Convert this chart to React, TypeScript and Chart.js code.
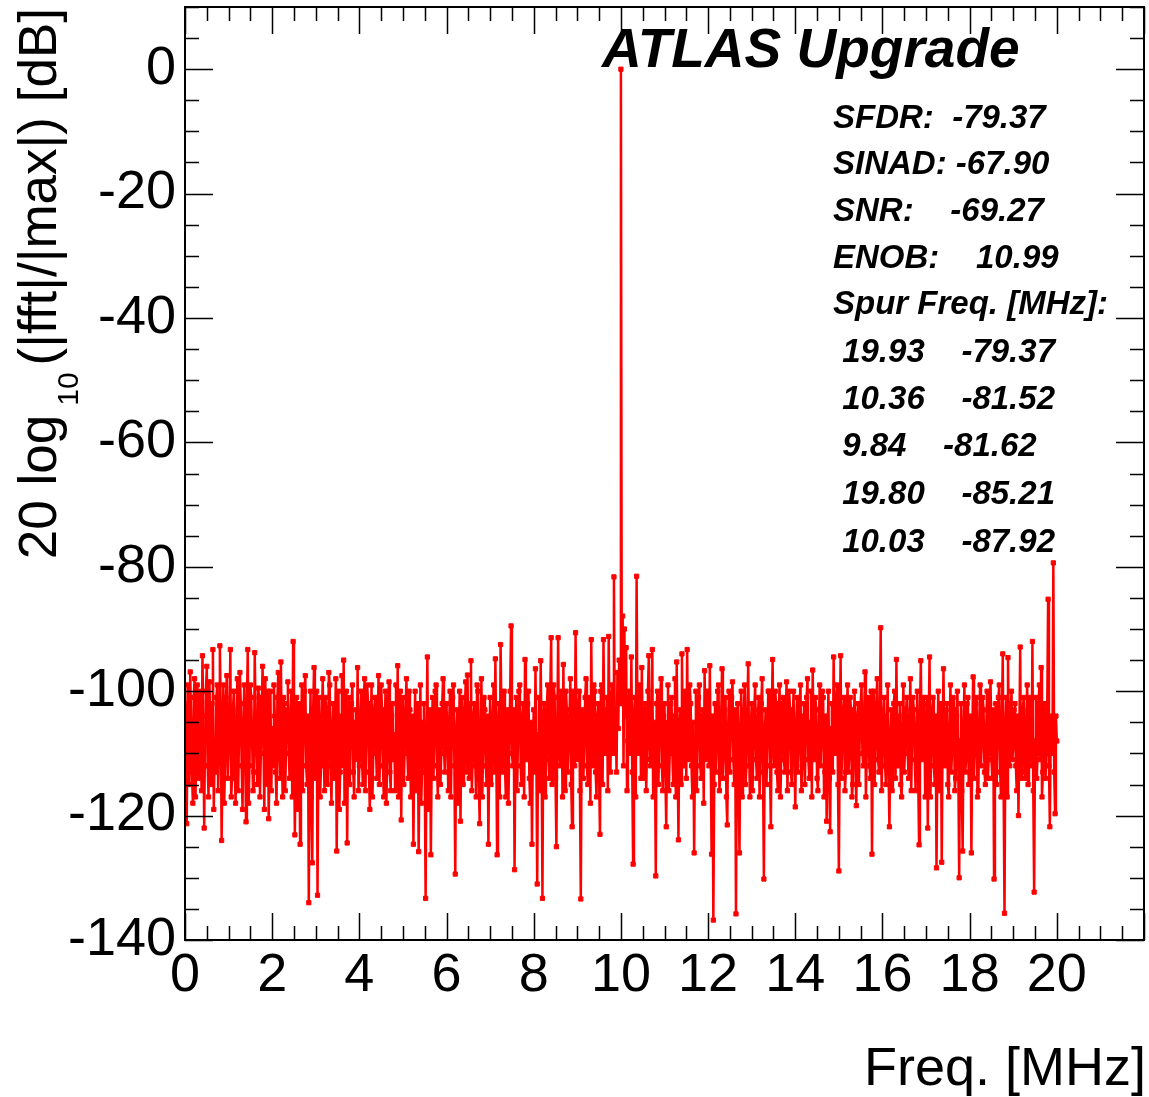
import React, { useEffect, useRef } from 'react';
import { Chart, registerables } from 'chart.js';

Chart.register(...registerables);

// ---------------- DATA ----------------
// FFT magnitude (dB). Points every FREQ_STEP_MHZ; one row per MHz.
// DB_kk: values at k + 0.04*j MHz; DBH_kk: values at k + 0.02 + 0.04*j MHz.
const FREQ_STEP_MHZ = 0.02;

const DB_00 = [-102, -121.3, -104, -96.9, -113, -101, -117, -99, -109, -103, -94.3, -122, -100, -112, -98.5, -115, -93.3, -110, -101, -116, -92.7, -124, -99, -111, -97.5];
const DB_01 = [-109, -93.3, -114, -100, -118, -98, -107, -102, -119, -99, -121, -93.3, -112, -101, -116, -93.8, -110, -99.5, -117, -103, -108, -98, -115, -120.5, -100];
const DB_02 = [-106, -99, -113, -101, -110, -95.3, -117, -102, -108, -98.5, -114, -100, -92.0, -123.1, -101, -111, -124.6, -99, -107, -97.5, -115, -134, -100, -127.6, -96.2];
const DB_03 = [-109, -132.8, -101, -112, -98, -116, -103, -110, -99, -118, -102, -107, -125.7, -100, -113, -97.5, -95, -111, -124.4, -101, -108, -99, -117, -103, -96.2];
const DB_04 = [-112, -100, -115, -98, -106, -102, -119, -99, -110, -101, -114, -97.5, -108, -103, -117, -100, -111, -98.5, -116, -102, -107, -99, -95.9, -113, -120.7];
const DB_05 = [-101, -109, -98, -114, -103, -111, -124.6, -100, -107, -125.8, -99, -112, -102, -133.3, -94.5, -115, -126.3, -101, -108, -99, -117, -103, -110, -98, -113];
const DB_06 = [-102, -116, -100, -108, -99, -129.4, -103, -112, -120.9, -101, -110, -98.5, -97.4, -114, -95.1, -111, -102, -117, -100, -121.3, -98, -109, -103, -115, -124.6];
const DB_07 = [-101, -110, -99, -94.8, -126.3, -102, -92.5, -113, -100, -117, -103, -108, -89.5, -112, -128.7, -101, -107, -99, -115, -102, -94.9, -111, -100, -118, -124.6];
const DB_08 = [-103, -96.4, -131, -101, -95.1, -133.3, -102, -110, -99, -114, -91.4, -108, -101, -125, -91.4, -112, -100, -95.7, -116, -103, -109, -98, -121.8, -102, -90.6];
const DB_09 = [-111, -100, -133.4, -103, -108, -98, -115, -101, -91.7, -112, -100, -117, -102, -123, -99, -91.7, -110, -101, -91.2, -113, -99, -81.62, -104, -97, -95];
const DB_10 = [0, -87.92, -90, -93, -108, -100, -94.5, -127.8, -101, -81.52, -110, -99, -96.2, -114, -102, -109, -94.3, -112, -93.3, -105, -129.7, -100, -108, -98, -116];
const DB_11 = [-102, -121.8, -99, -110, -101, -115, -98, -95.3, -123.9, -103, -94, -112, -100, -93.3, -109, -102, -117, -126, -100, -108, -99, -114, -103, -96.7, -111];
const DB_12 = [-101, -95.9, -126.2, -136.8, -102, -109, -99, -113, -96.4, -110, -101, -121.5, -100, -107, -98.5, -115, -135.8, -102, -126, -100, -110, -99, -112, -95.6, -117];
const DB_13 = [-102, -109, -99, -114, -101, -111, -98, -130.2, -103, -108, -100, -121.8, -94.9, -112, -102, -116, -99, -110, -101, -113, -98.5, -107, -103, -115, -100];
const DB_14 = [-118.6, -101, -109, -99, -112, -102, -108, -98, -114, -100, -96.6, -111, -103, -116, -99, -107, -101, -113, -120.9, -100, -122.6, -102, -94.5, -110, -99];
const DB_15 = [-128.9, -94.3, -108, -101, -113, -99, -110, -103, -115, -100, -118.4, -102, -107, -99, -112, -96.9, -110, -101, -114, -126.2, -100, -109, -98, -113, -89.8];
const DB_16 = [-110, -101, -115, -99, -121.8, -103, -108, -100, -94.9, -112, -102, -117, -99, -109, -101, -114, -98, -107, -103, -116, -100, -124.7, -95.1, -111, -102];
const DB_17 = [-108, -122, -94.5, -110, -101, -115, -128.4, -100, -108, -127.5, -96.4, -112, -102, -117, -99, -109, -103, -114, -100, -130, -102, -125.7, -99, -111, -101];
const DB_18 = [-113, -126, -97.7, -109, -101, -116, -99, -108, -103, -115, -100, -110, -98.5, -114, -130.2, -102, -108, -99, -117, -94, -135.7, -101, -94.6, -112, -100];
const DB_19 = [-109, -102, -116, -120, -92.9, -110, -101, -114, -99, -108, -103, -92, -132.3, -101, -110, -99, -96.2, -113, -102, -110, -85.21, -121.8, -104, -79.37, -119.7];
const DB_20 = [-108];

const DBH_00 = [-108, -99, -115, -105, -118, -98, -110, -114, -100, -116, -104, -107, -96, -117, -106, -102, -119, -113, -99, -108, -103, -112, -118, -101, -114];
const DBH_01 = [-104, -117, -103, -111, -106, -116, -97, -112, -105, -109, -102, -118, -99, -108, -113, -104, -115, -101, -110, -96, -119, -103, -100, -111, -116];
const DBH_02 = [-112, -104, -118, -97, -114, -108, -101, -116, -103, -110, -105, -117, -106, -109, -119, -102, -113, -116, -100, -112, -104, -110, -117, -103, -114];
const DBH_03 = [-100, -110, -117, -104, -109, -101, -115, -97, -112, -106, -114, -98, -108, -119, -104, -112, -118, -100, -107, -115, -102, -113, -105, -111, -116];
const DBH_04 = [-104, -111, -102, -116, -99, -113, -106, -117, -103, -109, -105, -115, -99, -112, -106, -118, -101, -113, -104, -111, -116, -108, -117, -100, -106];
const DBH_05 = [-115, -103, -110, -100, -117, -104, -108, -116, -102, -111, -118, -105, -113, -108, -119, -103, -110, -114, -100, -112, -106, -115, -102, -109, -104];
const DBH_06 = [-109, -105, -117, -101, -112, -107, -118, -100, -106, -115, -103, -113, -108, -102, -116, -104, -112, -99, -114, -106, -117, -101, -112, -104, -110];
const DBH_07 = [-115, -104, -113, -109, -106, -117, -104, -101, -112, -106, -118, -100, -110, -103, -108, -116, -100, -112, -104, -117, -107, -102, -114, -105, -109];
const DBH_08 = [-113, -110, -107, -116, -108, -104, -117, -103, -111, -100, -115, -99, -114, -106, -109, -101, -117, -111, -100, -113, -104, -115, -100, -112, -106];
const DBH_09 = [-104, -116, -106, -114, -101, -112, -105, -118, -108, -99, -113, -104, -114, -100, -115, -106, -103, -116, -107, -101, -110, -108, -113, -106, -102];
const DBH_10 = [-99, -112, -104, -116, -101, -110, -113, -104, -117, -106, -101, -114, -108, -103, -116, -100, -111, -106, -117, -110, -102, -115, -101, -112, -104];
const DBH_11 = [-113, -105, -116, -102, -110, -104, -117, -109, -106, -115, -108, -101, -114, -111, -99, -112, -105, -109, -116, -101, -112, -104, -118, -107, -100];
const DBH_12 = [-112, -110, -104, -115, -113, -100, -116, -104, -114, -103, -117, -106, -113, -101, -111, -103, -109, -114, -106, -117, -103, -115, -104, -109, -106];
const DBH_13 = [-116, -103, -111, -105, -117, -102, -113, -107, -115, -100, -112, -104, -109, -100, -113, -104, -117, -102, -111, -105, -116, -100, -113, -106, -110];
const DBH_14 = [-106, -113, -102, -116, -104, -115, -101, -111, -105, -117, -108, -101, -114, -106, -112, -100, -117, -104, -108, -114, -106, -113, -107, -101, -115];
const DBH_15 = [-108, -114, -103, -116, -105, -113, -101, -117, -107, -111, -104, -115, -102, -110, -104, -117, -103, -112, -100, -108, -115, -102, -111, -104, -116];
const DBH_16 = [-104, -112, -106, -113, -108, -116, -102, -114, -109, -104, -115, -106, -113, -103, -110, -105, -116, -101, -111, -106, -114, -104, -108, -101, -117];
const DBH_17 = [-101, -106, -117, -103, -112, -104, -110, -116, -102, -107, -111, -103, -115, -106, -113, -101, -116, -104, -112, -108, -116, -105, -113, -102, -115];
const DBH_18 = [-104, -108, -114, -102, -117, -105, -112, -101, -113, -106, -114, -102, -111, -103, -109, -115, -101, -113, -105, -116, -106, -117, -108, -103, -111];
const DBH_19 = [-103, -112, -104, -107, -114, -103, -113, -105, -115, -101, -112, -116, -108, -114, -102, -111, -117, -104, -114, -103, -112, -107, -110, -113, -104];

const EVEN_ROWS = [DB_00, DB_01, DB_02, DB_03, DB_04, DB_05, DB_06, DB_07, DB_08, DB_09, DB_10, DB_11, DB_12, DB_13, DB_14, DB_15, DB_16, DB_17, DB_18, DB_19];
const ODD_ROWS = [DBH_00, DBH_01, DBH_02, DBH_03, DBH_04, DBH_05, DBH_06, DBH_07, DBH_08, DBH_09, DBH_10, DBH_11, DBH_12, DBH_13, DBH_14, DBH_15, DBH_16, DBH_17, DBH_18, DBH_19];

const DB_VALUES: number[] = [];
EVEN_ROWS.forEach((row, k) => {
  row.forEach((v, j) => {
    DB_VALUES.push(v, ODD_ROWS[k][j]);
  });
});
DB_VALUES.push(...DB_20);

const X_MIN = 0;
const X_MAX = 22;
const X_LABEL_MAX = 20;
const Y_MIN = -140;
const Y_MAX = 10;

const HEADER_TEXT = 'ATLAS Upgrade';
const STAT_LINES = ['SFDR:  -79.37', 'SINAD: -67.90', 'SNR:    -69.27', 'ENOB:    10.99'];
const SPUR_HEADER = 'Spur Freq. [MHz]:';
const SPUR_FREQS = ['19.93', '10.36', '9.84', '19.80', '10.03'];
const SPUR_DB = ['-79.37', '-81.52', '-81.62', '-85.21', '-87.92'];
const X_TITLE = 'Freq. [MHz]';
const Y_TITLE_MAIN = '20 log';
const Y_TITLE_SUB = '10';
const Y_TITLE_REST = '(|fft|/|max|) [dB]';

// ---------------- STYLE ----------------
const FAMILY = '"Liberation Sans", Arial, Helvetica, sans-serif';
const W = 1149;
const H = 1097;

const rootPlugin = {
  id: 'rootStyle',
  afterDatasetsDraw(chart: any) {
    const { ctx, chartArea: a, scales } = chart;
    const x = scales.x;
    const y = scales.y;
    ctx.save();
    ctx.strokeStyle = '#000';
    ctx.lineWidth = 1.5;
    ctx.beginPath();
    for (let k = 0; k <= (X_MAX - X_MIN) * 2; k++) {
      const v = X_MIN + k * 0.5;
      const px = Math.round(x.getPixelForValue(v)) + 0.5;
      const len = k % 4 === 0 ? 27 : 14;
      ctx.moveTo(px, a.bottom);
      ctx.lineTo(px, a.bottom - len);
      ctx.moveTo(px, a.top);
      ctx.lineTo(px, a.top + len);
    }
    for (let v = Y_MIN; v <= Y_MAX; v += 5) {
      const py = Math.round(y.getPixelForValue(v)) + 0.5;
      const len = v % 20 === 0 ? 28 : 14;
      ctx.moveTo(a.left, py);
      ctx.lineTo(a.left + len, py);
      ctx.moveTo(a.right, py);
      ctx.lineTo(a.right - len, py);
    }
    ctx.stroke();
    ctx.lineWidth = 2;
    ctx.strokeRect(a.left, a.top, a.right - a.left, a.bottom - a.top);
    ctx.restore();
  },
  afterDraw(chart: any) {
    const { ctx } = chart;
    ctx.save();
    ctx.fillStyle = '#000';
    ctx.textBaseline = 'alphabetic';

    // header
    ctx.font = `italic bold 55px ${FAMILY}`;
    ctx.textAlign = 'left';
    ctx.fillText(HEADER_TEXT, 602, 67);

    // stats
    ctx.font = `italic bold 33px ${FAMILY}`;
    const lineYs = [128, 174, 221, 268, 314, 362, 409, 456, 504, 552];
    STAT_LINES.forEach((s, i) => ctx.fillText(s, 833, lineYs[i]));
    ctx.fillText(SPUR_HEADER, 833, lineYs[4]);
    SPUR_FREQS.forEach((f, i) => {
      ctx.fillText(' ' + f + '    ' + SPUR_DB[i], 833, lineYs[5 + i]);
    });

    // x title
    ctx.font = `54px ${FAMILY}`;
    ctx.textAlign = 'right';
    ctx.fillText(X_TITLE, 1146, 1085);

    // y title (rotated, with subscript)
    const mainFont = `53px ${FAMILY}`;
    const subFont = `30px ${FAMILY}`;
    ctx.font = mainFont;
    const w1 = ctx.measureText(Y_TITLE_MAIN).width;
    const w3 = ctx.measureText(Y_TITLE_REST).width;
    ctx.font = subFont;
    const w2 = ctx.measureText(Y_TITLE_SUB).width;
    const gapA = 9;
    const gapB = 7;
    const total = w1 + gapA + w2 + gapB + w3;
    ctx.translate(56, 8 + total);
    ctx.rotate(-Math.PI / 2);
    ctx.textAlign = 'left';
    ctx.font = mainFont;
    ctx.fillText(Y_TITLE_MAIN, 0, 0);
    ctx.font = subFont;
    ctx.fillText(Y_TITLE_SUB, w1 + gapA, 22);
    ctx.font = mainFont;
    ctx.fillText(Y_TITLE_REST, w1 + gapA + w2 + gapB, 0);
    ctx.restore();
  },
};

export default function App() {
  const ref = useRef<HTMLCanvasElement | null>(null);
  useEffect(() => {
    document.body.style.margin = '0';
    const canvas = ref.current;
    if (!canvas) return;
    const points = DB_VALUES.map((v, i) => ({ x: i * FREQ_STEP_MHZ, y: v }));
    const chart = new Chart(canvas, {
      type: 'line',
      data: {
        datasets: [
          {
            data: points,
            borderColor: '#ff0000',
            backgroundColor: '#ff0000',
            borderWidth: 2.5,
            pointStyle: 'rect',
            pointRadius: 3,
            pointBorderWidth: 1,
            pointBorderColor: '#ff0000',
            pointBackgroundColor: '#ff0000',
            tension: 0,
            fill: false,
          },
        ],
      },
      options: {
        animation: false,
        responsive: false,
        devicePixelRatio: 1,
        layout: { padding: { left: 0, top: 7, right: 2, bottom: 0 } },
        plugins: { legend: { display: false }, tooltip: { enabled: false }, title: { display: false } },
        scales: {
          x: {
            type: 'linear',
            min: X_MIN,
            max: X_MAX,
            grid: { display: false, drawTicks: false },
            border: { display: false },
            ticks: {
              stepSize: 2,
              includeBounds: false,
              autoSkip: false,
              maxRotation: 0,
              padding: 4,
              color: '#000',
              font: { family: FAMILY, size: 54 },
              callback: (v: any) => (Number(v) > X_LABEL_MAX ? '' : String(v)),
            },
            afterFit: (s: any) => {
              s.height = H - 940;
              s.paddingLeft = 0;
              s.paddingRight = 0;
            },
          },
          y: {
            type: 'linear',
            min: Y_MIN,
            max: Y_MAX,
            grid: { display: false, drawTicks: false },
            border: { display: false },
            ticks: {
              stepSize: 20,
              includeBounds: false,
              autoSkip: false,
              padding: 9,
              color: '#000',
              font: { family: FAMILY, size: 54 },
              callback: (v: any) => (Number(v) > 0 ? '' : String(v)),
            },
            afterFit: (s: any) => {
              s.width = 185;
              s.paddingTop = 0;
              s.paddingBottom = 0;
            },
          },
        },
      },
      plugins: [rootPlugin],
    });
    return () => chart.destroy();
  }, []);
  return (
    <div style={{ position: 'absolute', left: 0, top: 0, width: W, height: H, background: '#fff' }}>
      <canvas ref={ref} width={W} height={H} style={{ width: W, height: H, display: 'block' }} />
    </div>
  );
}
